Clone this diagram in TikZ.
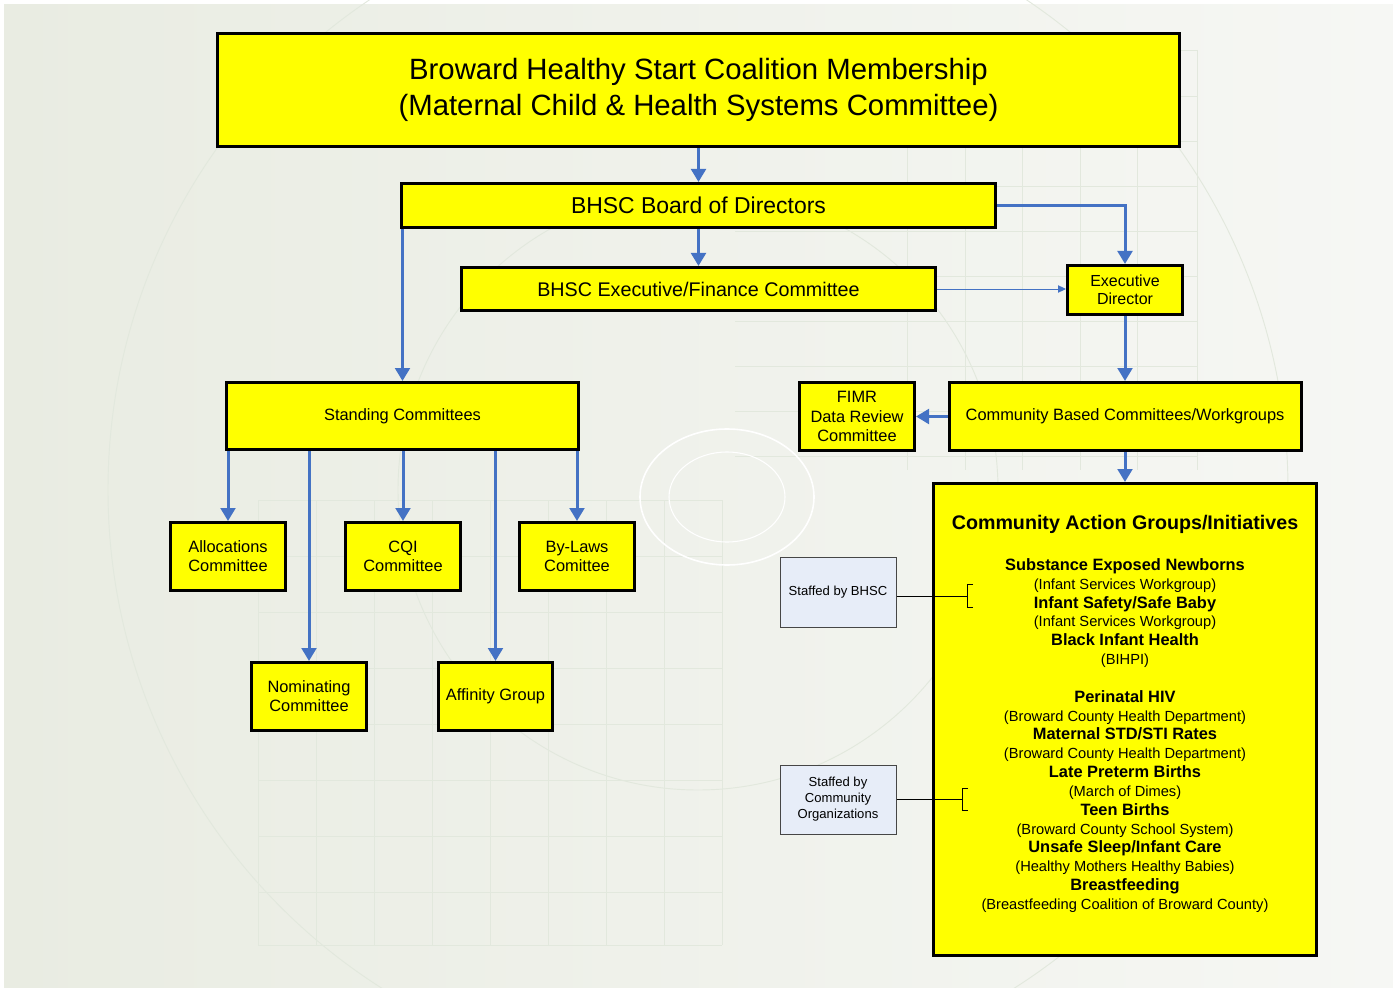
\documentclass[tikz,border=0pt]{standalone}
\usepackage{fontspec}
\setmainfont{Liberation Sans}
\usetikzlibrary{arrows.meta}
\definecolor{conblue}{RGB}{68,114,196}
\definecolor{bgL}{RGB}{233,236,226}
\definecolor{bgR}{RGB}{246,247,244}
\definecolor{deco}{RGB}{226,232,221}
\definecolor{ybfill}{RGB}{255,255,0}
\definecolor{staffill}{RGB}{231,237,248}
\definecolor{stafdraw}{RGB}{70,70,70}
\tikzset{
  sz/.style 2 args={minimum width=#1*0.75pt, minimum height=#2*0.75pt},
  ybox/.style={draw=black, line width=2.25pt, fill=ybfill, rectangle, align=center, inner sep=0pt},
  sbox/.style={draw=stafdraw, line width=0.75pt, fill=staffill, rectangle, align=center, inner sep=0pt,
    font=\fontsize{9.8}{12}\selectfont},
  conn/.style={draw=conblue, line width=2.25pt, -{Triangle[length=9.75pt,width=11pt]}},
  thinconn/.style={draw=conblue, line width=0.75pt, -{Triangle[length=6pt,width=5.5pt]}},
  brk/.style={draw=black, line width=0.75pt},
  dec/.style={draw=deco, line width=0.7pt},
  smallf/.style={font=\fontsize{12.3}{14.25}\selectfont}
}
\begin{document}
\begin{tikzpicture}[x=0.75pt,y=-0.75pt]
\useasboundingbox (0,0) rectangle (1393,988);
\shade[left color=bgL, right color=bgR] (4,5) rectangle (1393,988);
% faint background decoration
\foreach \xx in {907,965,1022,1080,1137,1197} \draw[dec] (\xx,50) -- (\xx,470);
\foreach \yy in {50,96,141,186,231,276,321,366,411,456} \draw[dec] (735,\yy) -- (1197,\yy);
\foreach \xx in {258,316,374,432,490,548,606,664,722} \draw[dec] (\xx,500) -- (\xx,945);
\foreach \yy in {500,556,612,668,724,780,836,892,945} \draw[dec] (258,\yy) -- (722,\yy);
\draw[dec] (698,490) circle[radius=590];
\draw[dec] (698,490) circle[radius=300];
\draw[draw=white, line width=1.2pt] (727,497) ellipse[x radius=87, y radius=68];
\draw[draw=white, line width=0.8pt] (727,497) ellipse[x radius=58, y radius=45];

% nodes
\node[ybox, sz={962}{113}, font=\fontsize{22}{27}\selectfont] (top) at (698.5,90)
  {Broward Healthy Start Coalition Membership\\(Maternal Child \& Health Systems Committee)};
\node[ybox, sz={594}{44}, font=\fontsize{17.2}{20}\selectfont] (board) at (698.5,205.5) {BHSC Board of Directors};
\node[ybox, sz={474}{43}, font=\fontsize{14.8}{17}\selectfont] (execfin) at (698.5,289) {BHSC Executive/Finance Committee};
\node[ybox, sz={115}{49}, font=\fontsize{12}{13.5}\selectfont] (execdir) at (1125,290) {Executive\\Director};
\node[ybox, sz={352}{67}, smallf] (standing) at (402.5,416) {Standing Committees};
\node[ybox, sz={115}{68}, smallf] (alloc) at (228,556.5) {Allocations\\Committee};
\node[ybox, sz={115}{68}, smallf] (cqi) at (403,556.5) {CQI\\Committee};
\node[ybox, sz={115}{68}, smallf] (bylaws) at (577,556.5) {By-Laws\\Comittee};
\node[ybox, sz={115}{68}, smallf] (nomin) at (309,696.5) {Nominating\\Committee};
\node[ybox, sz={114}{68}, smallf] (affin) at (495.5,696.5) {Affinity Group};
\node[ybox, sz={115}{68}, font=\fontsize{12.3}{14.6}\selectfont] (fimr) at (857,416.5) {FIMR\\Data Review\\Committee};
\node[ybox, sz={352}{68}, smallf] (cbc) at (1125,416.5) {Community Based Committees/Workgroups};
\node[ybox, sz={383}{472}] (cag) at (1125,719.5) {};
\node[font=\fontsize{14.75}{17}\selectfont\bfseries] (cagtitle) at (1125,524) {Community Action Groups/Initiatives};
\node[align=center, inner sep=0pt, font=\fontsize{11}{14.125}\selectfont] (caglist) at (1125,735.5) {%
{\fontsize{12.3}{14.125}\selectfont\bfseries Substance Exposed Newborns}\\
(Infant Services Workgroup)\\
{\fontsize{12.3}{14.125}\selectfont\bfseries Infant Safety/Safe Baby}\\
(Infant Services Workgroup)\\
{\fontsize{12.3}{14.125}\selectfont\bfseries Black Infant Health}\\
(BIHPI)\\[14.125pt]
{\fontsize{12.3}{14.125}\selectfont\bfseries Perinatal HIV}\\
(Broward County Health Department)\\
{\fontsize{12.3}{14.125}\selectfont\bfseries Maternal STD/STI Rates}\\
(Broward County Health Department)\\
{\fontsize{12.3}{14.125}\selectfont\bfseries Late Preterm Births}\\
(March of Dimes)\\
{\fontsize{12.3}{14.125}\selectfont\bfseries Teen Births}\\
(Broward County School System)\\
{\fontsize{12.3}{14.125}\selectfont\bfseries Unsafe Sleep/Infant Care}\\
(Healthy Mothers Healthy Babies)\\
{\fontsize{12.3}{14.125}\selectfont\bfseries Breastfeeding}\\
(Breastfeeding Coalition of Broward County)};
\node[sbox, sz={116}{70}] (staf1) at (838,592) {Staffed by BHSC};
\node[sbox, sz={116}{69}] (staf2) at (838,799.5) {Staffed by\\Community\\Organizations};

% connectors
\draw[conn] (top.south) -- (board.north);
\draw[conn] (board.south) -- (execfin.north);
\draw[conn] (board.east) -| (execdir.north);
\draw[thinconn] (execfin.east) -- (execfin.east -| execdir.west);
\draw[conn] (board.south -| standing.north) -- (standing.north);
\draw[conn] (execdir.south) -- (cbc.north);
\draw[conn] (cbc.west) -- (fimr.east);
\draw[conn] (cbc.south) -- (cag.north);
\draw[conn] (standing.south -| alloc.north) -- (alloc.north);
\draw[conn] (standing.south -| cqi.north) -- (cqi.north);
\draw[conn] (standing.south -| bylaws.north) -- (bylaws.north);
\draw[conn] (standing.south -| nomin.north) -- (nomin.north);
\draw[conn] (standing.south -| affin.north) -- (affin.north);

% brackets
\coordinate (b1) at (967,596);
\draw[brk] (staf1.east |- b1) -- (b1);
\draw[brk] (973,584.5) -- (967,584.5) -- (967,607) -- (973,607);
\coordinate (b2) at (962,799);
\draw[brk] (staf2.east |- b2) -- (b2);
\draw[brk] (968,788) -- (962,788) -- (962,810.5) -- (968,810.5);
\end{tikzpicture}
\end{document}
